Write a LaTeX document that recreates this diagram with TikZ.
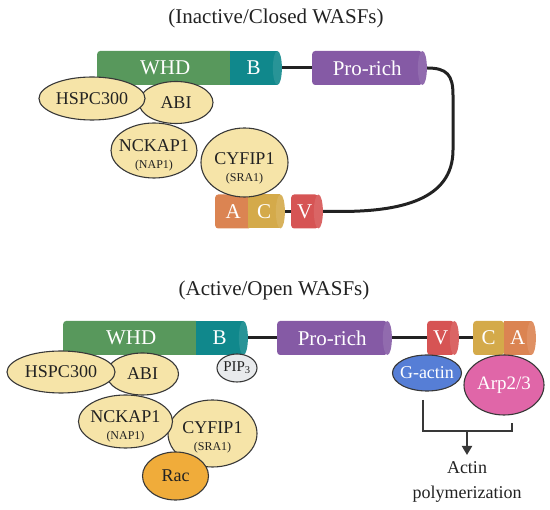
\documentclass[tikz,border=0pt]{standalone}
\usepackage{fontspec}
\setmainfont{Liberation Serif}
\usetikzlibrary{shapes.geometric,backgrounds,arrows.meta}
\definecolor{whdgreen}{RGB}{88,152,92}
\definecolor{bteal}{RGB}{16,136,140}
\definecolor{propurple}{RGB}{133,90,165}
\definecolor{vred}{RGB}{214,84,84}
\definecolor{cgold}{RGB}{212,170,74}
\definecolor{aorange}{RGB}{219,132,82}
\definecolor{subfill}{RGB}{246,228,168}
\definecolor{gblue}{RGB}{86,126,214}
\definecolor{arppink}{RGB}{224,102,168}
\definecolor{racorange}{RGB}{240,172,58}
\definecolor{pipgray}{RGB}{232,234,236}
\definecolor{ink}{RGB}{34,34,34}
\newcommand{\subtag}[1]{{\fontsize{12}{14}\selectfont #1}}
\begin{document}
\begin{tikzpicture}[x=1pt,y=-1pt,
    bar/.style={rectangle,rounded corners=3pt,minimum height=34pt,inner sep=0pt,fill=#1,text=white,font=\fontsize{21}{24}\selectfont,anchor=west},
    cap/.style={ellipse,minimum width=9pt,minimum height=34pt,inner sep=0pt,fill=#1!90!white},
    sub/.style={ellipse,draw=ink!90,line width=1.1pt,fill=#1,inner sep=0pt},
    lab/.style={align=center,inner sep=0pt,text=ink,font=\fontsize{18}{20}\selectfont},
    wlab/.style={lab,text=white},
    title/.style={text=ink,font=\fontsize{21}{24}\selectfont},
    link/.style={line width=3pt,ink},
    bracket/.style={line width=2pt,ink!90}]
    \useasboundingbox (0,0) rectangle (550,510);
    % inactive / closed
    \node[title] (t1) at (276,18) {(Inactive/Closed WASFs)};
    \node[bar=whdgreen,minimum width=136pt] (whd1) at (97,68) {WHD};
    \node[bar=bteal,sharp corners,minimum width=47pt] (b1) at (230,68) {B};
    \node[cap=bteal] (b1c) at (b1.east) {};
    \node[bar=propurple,minimum width=110pt] (pro1) at (312,68) {Pro-rich};
    \node[cap=propurple] (pro1c) at (pro1.east) {};
    \node[bar=aorange,minimum width=36pt] (a1) at (215,211.5) {A\hspace{3pt}};
    \node[bar=cgold,sharp corners,minimum width=32pt] (c1) at (248,211.5) {C};
    \node[cap=cgold] (c1c) at (c1.east) {};
    \node[bar=vred,minimum width=27pt] (v1) at (291,211.5) {V};
    \node[cap=vred] (v1c) at (v1.east) {};
    \node[sub=subfill,minimum width=87pt,minimum height=69pt,label={[lab,yshift=-6pt]center:{CYFIP1\\[-3pt]\subtag{(SRA1)}}}] (cyf1) at (244.5,162.5) {};
    \node[sub=subfill,minimum width=86pt,minimum height=55pt,label={[lab,yshift=-5pt]center:{NCKAP1\\[-3pt]\subtag{(NAP1)}}}] (nck1) at (154,150.5) {};
    \node[sub=subfill,minimum width=74pt,minimum height=42pt,label={[lab]center:ABI}] (abi1) at (176,102.5) {};
    \node[sub=subfill,minimum width=106pt,minimum height=43pt,label={[lab]center:HSPC300}] (hspc1) at (92,98.5) {};
    \begin{scope}[on background layer]
        \draw[link] (b1c.east) -- (pro1.west);
        \draw[link] (c1c.east) -- (v1.west);
        \draw[link] (pro1c.east) .. controls (447,68) and (453,75) .. (453,95) -- (453,150)
            .. controls (453,200) and (400,211.5) .. (340,211.5) -- (v1c.east);
    \end{scope}
    % active / open
    \node[title] (t2) at (274,290) {(Active/Open WASFs)};
    \node[bar=whdgreen,minimum width=136pt] (whd2) at (63,338) {WHD};
    \node[bar=bteal,sharp corners,minimum width=47pt] (b2) at (196,338) {B};
    \node[cap=bteal] (b2c) at (b2.east) {};
    \node[bar=propurple,minimum width=110pt] (pro2) at (277,338) {Pro-rich};
    \node[cap=propurple] (pro2c) at (pro2.east) {};
    \node[bar=vred,minimum width=27pt] (v2) at (427,338) {V};
    \node[cap=vred] (v2c) at (v2.east) {};
    \node[bar=cgold,minimum width=31pt] (c2) at (473,338) {C};
    \node[bar=aorange,sharp corners,minimum width=27pt] (a2) at (504,338) {A};
    \node[cap=aorange] (a2c) at (a2.east) {};
    \node[sub=pipgray,minimum width=40pt,minimum height=28pt,label={[lab,font=\fontsize{15}{17}\selectfont]center:PIP\textsubscript{3}}] (pip) at (237,368) {};
    \node[sub=subfill,minimum width=89pt,minimum height=67pt,label={[lab,yshift=-4pt]center:{CYFIP1\\[-3pt]\subtag{(SRA1)}}}] (cyf2) at (212.5,433.5) {};
    \node[sub=subfill,minimum width=94pt,minimum height=53pt,label={[lab,yshift=-5pt]center:{NCKAP1\\[-3pt]\subtag{(NAP1)}}}] (nck2) at (125.5,421.5) {};
    \node[sub=subfill,minimum width=72pt,minimum height=42pt,label={[lab]center:ABI}] (abi2) at (142.5,374) {};
    \node[sub=subfill,minimum width=108pt,minimum height=42pt,label={[lab]center:HSPC300}] (hspc2) at (61,372) {};
    \node[sub=racorange,minimum width=66pt,minimum height=48pt,label={[lab]center:Rac}] (rac) at (175.5,476) {};
    \node[sub=gblue,minimum width=69pt,minimum height=36pt,label={[wlab]center:G-actin}] (gact) at (427,373) {};
    \node[sub=arppink,minimum width=80pt,minimum height=60pt,label={[wlab,font=\fontsize{19}{21}\selectfont]center:Arp2/3}] (arp) at (504,385) {};
    \node[lab,anchor=north,inner ysep=6pt,font=\fontsize{18}{25}\selectfont] (poly) at (467,455) {Actin\\polymerization};
    \coordinate (gaend) at (423,400);
    \coordinate (arpend) at (512,423);
    \coordinate (join) at (467,431);
    \begin{scope}[on background layer]
        \draw[link] (b2c.east) -- (pro2.west);
        \draw[link] (pro2c.east) -- (v2.west);
        \draw[link] (v2c.east) -- (c2.west);
    \end{scope}
    \draw[bracket] (gaend) -- (gaend |- join) -- (arpend |- join) -- (arpend);
    \draw[bracket,-{Triangle[length=9pt,width=10pt]}] (join) -- (poly.north);
\end{tikzpicture}
\end{document}
